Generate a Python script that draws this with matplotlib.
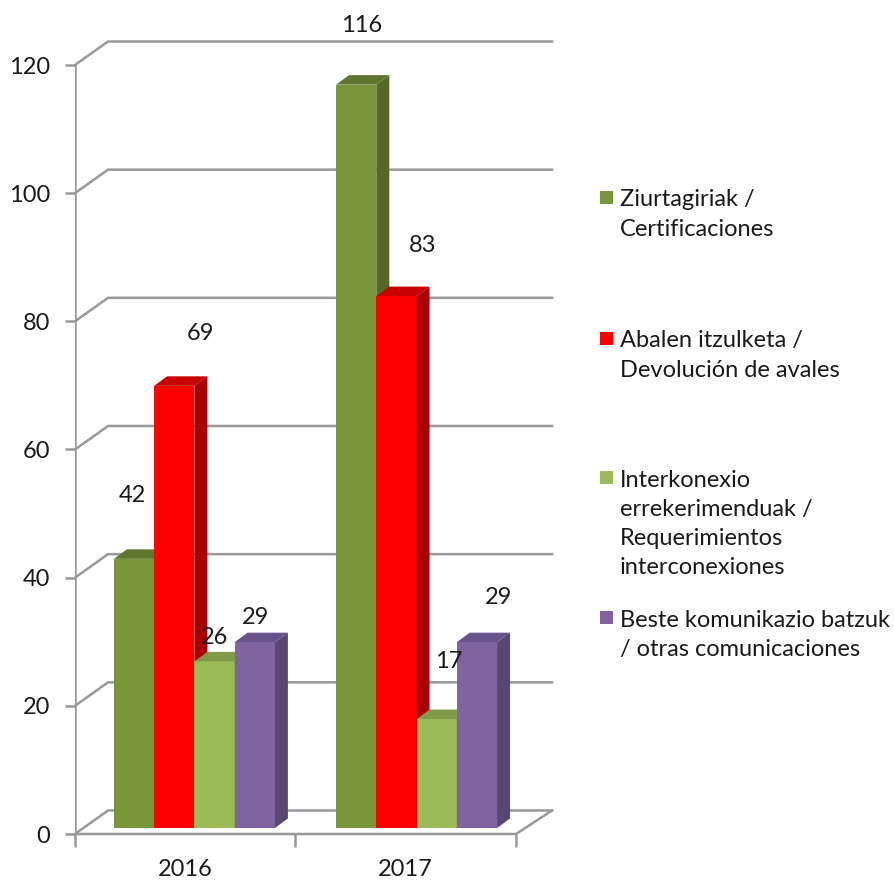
import numpy as np
import matplotlib
matplotlib.use('Agg')
import matplotlib.pyplot as plt
from matplotlib.patches import Polygon, Rectangle

years = ['2016', '2017']
series = ['Ziurtagiriak /\nCertificaciones',
          'Abalen itzulketa /\nDevolución de avales',
          'Interkonexio\nerrekerimenduak /\nRequerimientos\ninterconexiones',
          'Beste komunikazio batzuk\n/ otras comunicaciones']
certificaciones = [42, 116]
avales = [69, 83]
interconexiones = [26, 17]
otras = [29, 29]
values = [certificaciones, avales, interconexiones, otras]
yticks = [0, 20, 40, 60, 80, 100, 120]

front = ['#7A963A', '#FF0000', '#9BBB59', '#8064A2']
side = ['#55682A', '#A80000', '#6E8540', '#5A4672']
top = ['#5F752D', '#C80000', '#7F9A48', '#68528A']
grid_col = '#999999'
text_col = '#1a1a1a'
fs = 17

W, H = 895, 880
fig = plt.figure(figsize=(W / 100, H / 100), dpi=100)
# axes box matches the front plane of the 3d plot
ax = fig.add_axes([75 / W, 1 - 834 / H, 441 / W, 769 / H])
ax.set_xlim(0, 2)
ax.set_ylim(0, 120)
ax.patch.set_visible(False)

# pixels to data units
px = 2 / 441
py = 120 / 769
wall_x, wall_y = 33 * px, 23.5 * py
right = 2 + 36 * px

for t in yticks:
    ax.plot([0, wall_x, right], [t, t + wall_y, t + wall_y], color=grid_col, lw=1.8, clip_on=False, zorder=1)
ax.plot([0, 0], [0, 120], color=grid_col, lw=1.8, zorder=1)
ax.plot([0, 2, right], [0, 0, wall_y], color=grid_col, lw=1.8, clip_on=False, zorder=1)

# bars
centers = [0.5415, 1.549]
bw = 40.25 * px
base = 6 * py
dx, dy = 13 * px, 9.5 * py
label_pos = [[(132, 495), (201, 334), (215, 637), (256, 617)],
             [(362, 25), (423, 246), (449, 661), (499, 597)]]
for g, c in enumerate(centers):
    for s in range(4):
        v = values[s][g]
        x0 = c + (s - 2) * bw
        ax.bar(x0, v, bw, bottom=base, align='edge', color=front[s], zorder=3 + s)
        x1 = x0 + bw
        ax.add_patch(Polygon([(x1, base), (x1 + dx, base + dy), (x1 + dx, base + v + dy), (x1, base + v)],
                             closed=True, fc=side[s], ec='none', zorder=3 + s, clip_on=False))
        ax.add_patch(Polygon([(x0, base + v), (x0 + dx, base + v + dy), (x1 + dx, base + v + dy), (x1, base + v)],
                             closed=True, fc=top[s], ec='none', zorder=3 + s, clip_on=False))
        lx, ly = label_pos[g][s]
        fig.text(lx / W, 1 - ly / H, str(v), fontsize=fs, family='Lato', color=text_col, ha='center', va='center', zorder=20)

ax.set_xticks([0, 1, 2])
ax.set_xticklabels([])
ax.set_yticks(yticks)
ax.set_yticklabels([str(t) for t in yticks], fontsize=fs, family='Lato', color=text_col)
ax.tick_params(axis='y', length=7, width=1.8, color=grid_col, pad=11)
ax.tick_params(axis='x', length=9, width=1.8, color=grid_col)
for s in ax.spines.values():
    s.set_visible(False)
for c, y in zip([0.5, 1.5], years):
    ax.text(c, -5.6, y, fontsize=fs, family='Lato', color=text_col, ha='center', va='center')

# legend
legend_y = [197, 338, 477, 617]
for s, name in enumerate(series):
    yy = legend_y[s]
    fig.patches.append(Rectangle((600 / W, 1 - (yy + 7) / H), 13 / W, 13 / H, transform=fig.transFigure, fc=front[s], ec='none'))
    fig.text(620 / W, 1 - (yy - 7.5) / H, name, fontsize=fs, family='Lato', color=text_col,
             ha='left', va='top', linespacing=1.48)

fig.savefig('out.png', dpi=100)
